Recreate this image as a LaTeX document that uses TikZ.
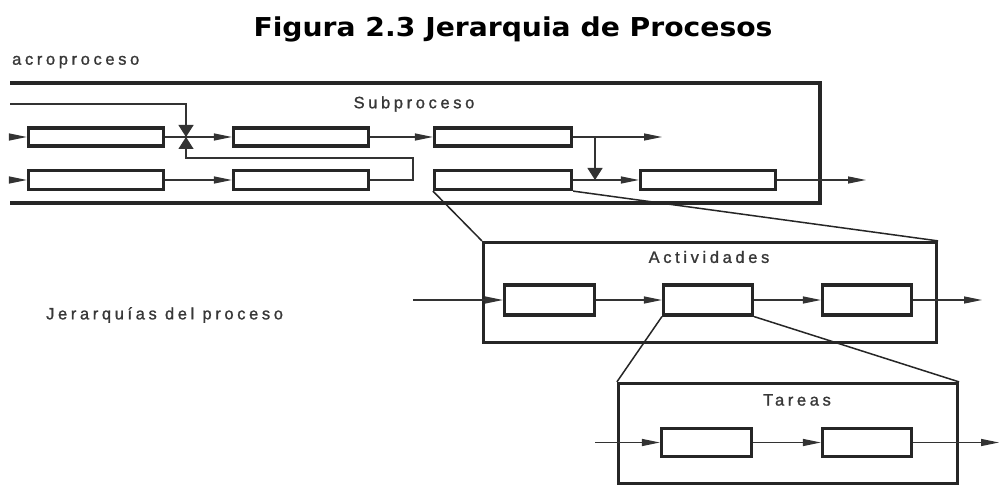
\documentclass[tikz,border=0pt]{standalone}
\usepackage{fontspec}
\setmainfont{Liberation Sans}
\newfontfamily\titlefont{DejaVu Sans}
\newfontfamily\spaced[LetterSpace=22,FakeBold=1.2]{Liberation Sans}
\usetikzlibrary{arrows.meta}
\begin{document}
\begin{tikzpicture}[x=1pt,y=-1pt,
  box/.style={draw=black!85, line width=3.2pt, inner sep=0pt},
  frame/.style={draw=black!85, line width=3.2pt, inner sep=0pt},
  conn/.style={draw=black!80, line width=1.3pt},
  arr/.style={conn, -{Triangle[length=18pt,width=7pt]}},
  varr/.style={conn, -{Triangle[length=12pt,width=15pt]}},
  zoomline/.style={draw=black!85, line width=1.5pt},
  lbl/.style={font=\spaced\fontsize{16.5}{18}\selectfont, text=black!78, inner sep=0pt},
]
\useasboundingbox[fill=white] (0,0) rectangle (1000,494);

% title
\node[font=\titlefont\bfseries\fontsize{26}{30}\selectfont, inner sep=0pt, xscale=1.085] (title) at (513,29) {Figura 2.3 Jerarquia de Procesos};

% labels
\node[lbl, anchor=west] (macro) at (12,62) {acroproceso};
\node[lbl] (sublbl) at (414,104) {Subproceso};
\node[lbl, anchor=west] (jer) at (46,315) {Jerarquías del proceso};

% subproceso frame (open on the left)
\draw[frame] (10,83) -- (820,83) -- (820,203) -- (10,203);

% subproceso boxes
\node[box, minimum width=135pt, minimum height=18pt] (a1) at (96,137) {};
\node[box, minimum width=135pt, minimum height=18pt] (a2) at (301,137) {};
\node[box, minimum width=137pt, minimum height=18pt] (a3) at (503,137) {};
\node[box, minimum width=135pt, minimum height=19pt] (b1) at (96,180) {};
\node[box, minimum width=135pt, minimum height=19pt] (b2) at (301,180) {};
\node[box, minimum width=137pt, minimum height=19pt] (b3) at (503,180) {};
\node[box, minimum width=135pt, minimum height=19pt] (b4) at (708,180) {};

\coordinate (in1) at (10,137);
\coordinate (in2) at (10,180);
\coordinate (top) at (10,104);
\coordinate (j) at (186,137);
\coordinate (lp) at (413,158);
\coordinate (br) at (595,137);
\coordinate (o1) at (662,137);
\coordinate (o2) at (866,180);

\draw[arr] (in1) -- (a1.west);
\draw[conn] (a1.east) -- (j);
\draw[arr] (j) -- (a2.west);
\draw[varr] (top) -| (j);
\draw[varr] (b2.east) -| (lp) -- (j |- lp) -- (j);
\draw[arr] (a2.east) -- (a3.west);
\draw[arr] (a3.east) -- (o1);
\draw[varr] (br) -- (br |- b3.east);
\draw[arr] (in2) -- (b1.west);
\draw[arr] (b1.east) -- (b2.west);
\draw[arr] (b3.east) -- (b4.west);
\draw[arr] (b4.east) -- (o2);

% actividades
\node[frame, minimum width=453pt, minimum height=100pt] (act) at (710,292.5) {};
\node[lbl] (actlbl) at (709,257) {Actividades};
\node[box, minimum width=90pt, minimum height=30pt] (c1) at (549.5,300) {};
\node[box, minimum width=89pt, minimum height=30pt] (c2) at (708,300) {};
\node[box, minimum width=89pt, minimum height=30pt] (c3) at (867,300) {};
\coordinate (ain) at (413,300);
\coordinate (aout) at (982,300);
\draw[arr] (ain) -- (c1.west);
\draw[arr] (c1.east) -- (c2.west);
\draw[arr] (c2.east) -- (c3.west);
\draw[arr] (c3.east) -- (aout);
\draw[zoomline] (b3.south west) -- (act.north west);
\draw[zoomline] (b3.south east) -- (act.north east);

% tareas
\node[frame, minimum width=339pt, minimum height=100pt] (tar) at (788,433.5) {};
\node[lbl] (tarlbl) at (797,400) {Tareas};
\node[box, minimum width=90pt, minimum height=28pt] (d1) at (706.5,442.5) {};
\node[box, minimum width=89pt, minimum height=28pt] (d2) at (867,442.5) {};
\coordinate (tin) at (595,442.5);
\coordinate (tout) at (999,442.5);
\draw[arr] (tin) -- (d1.west);
\draw[arr] (d1.east) -- (d2.west);
\draw[arr] (d2.east) -- (tout);
\draw[zoomline] (c2.south west) -- (tar.north west);
\draw[zoomline] (c2.south east) -- (tar.north east);
\end{tikzpicture}
\end{document}
